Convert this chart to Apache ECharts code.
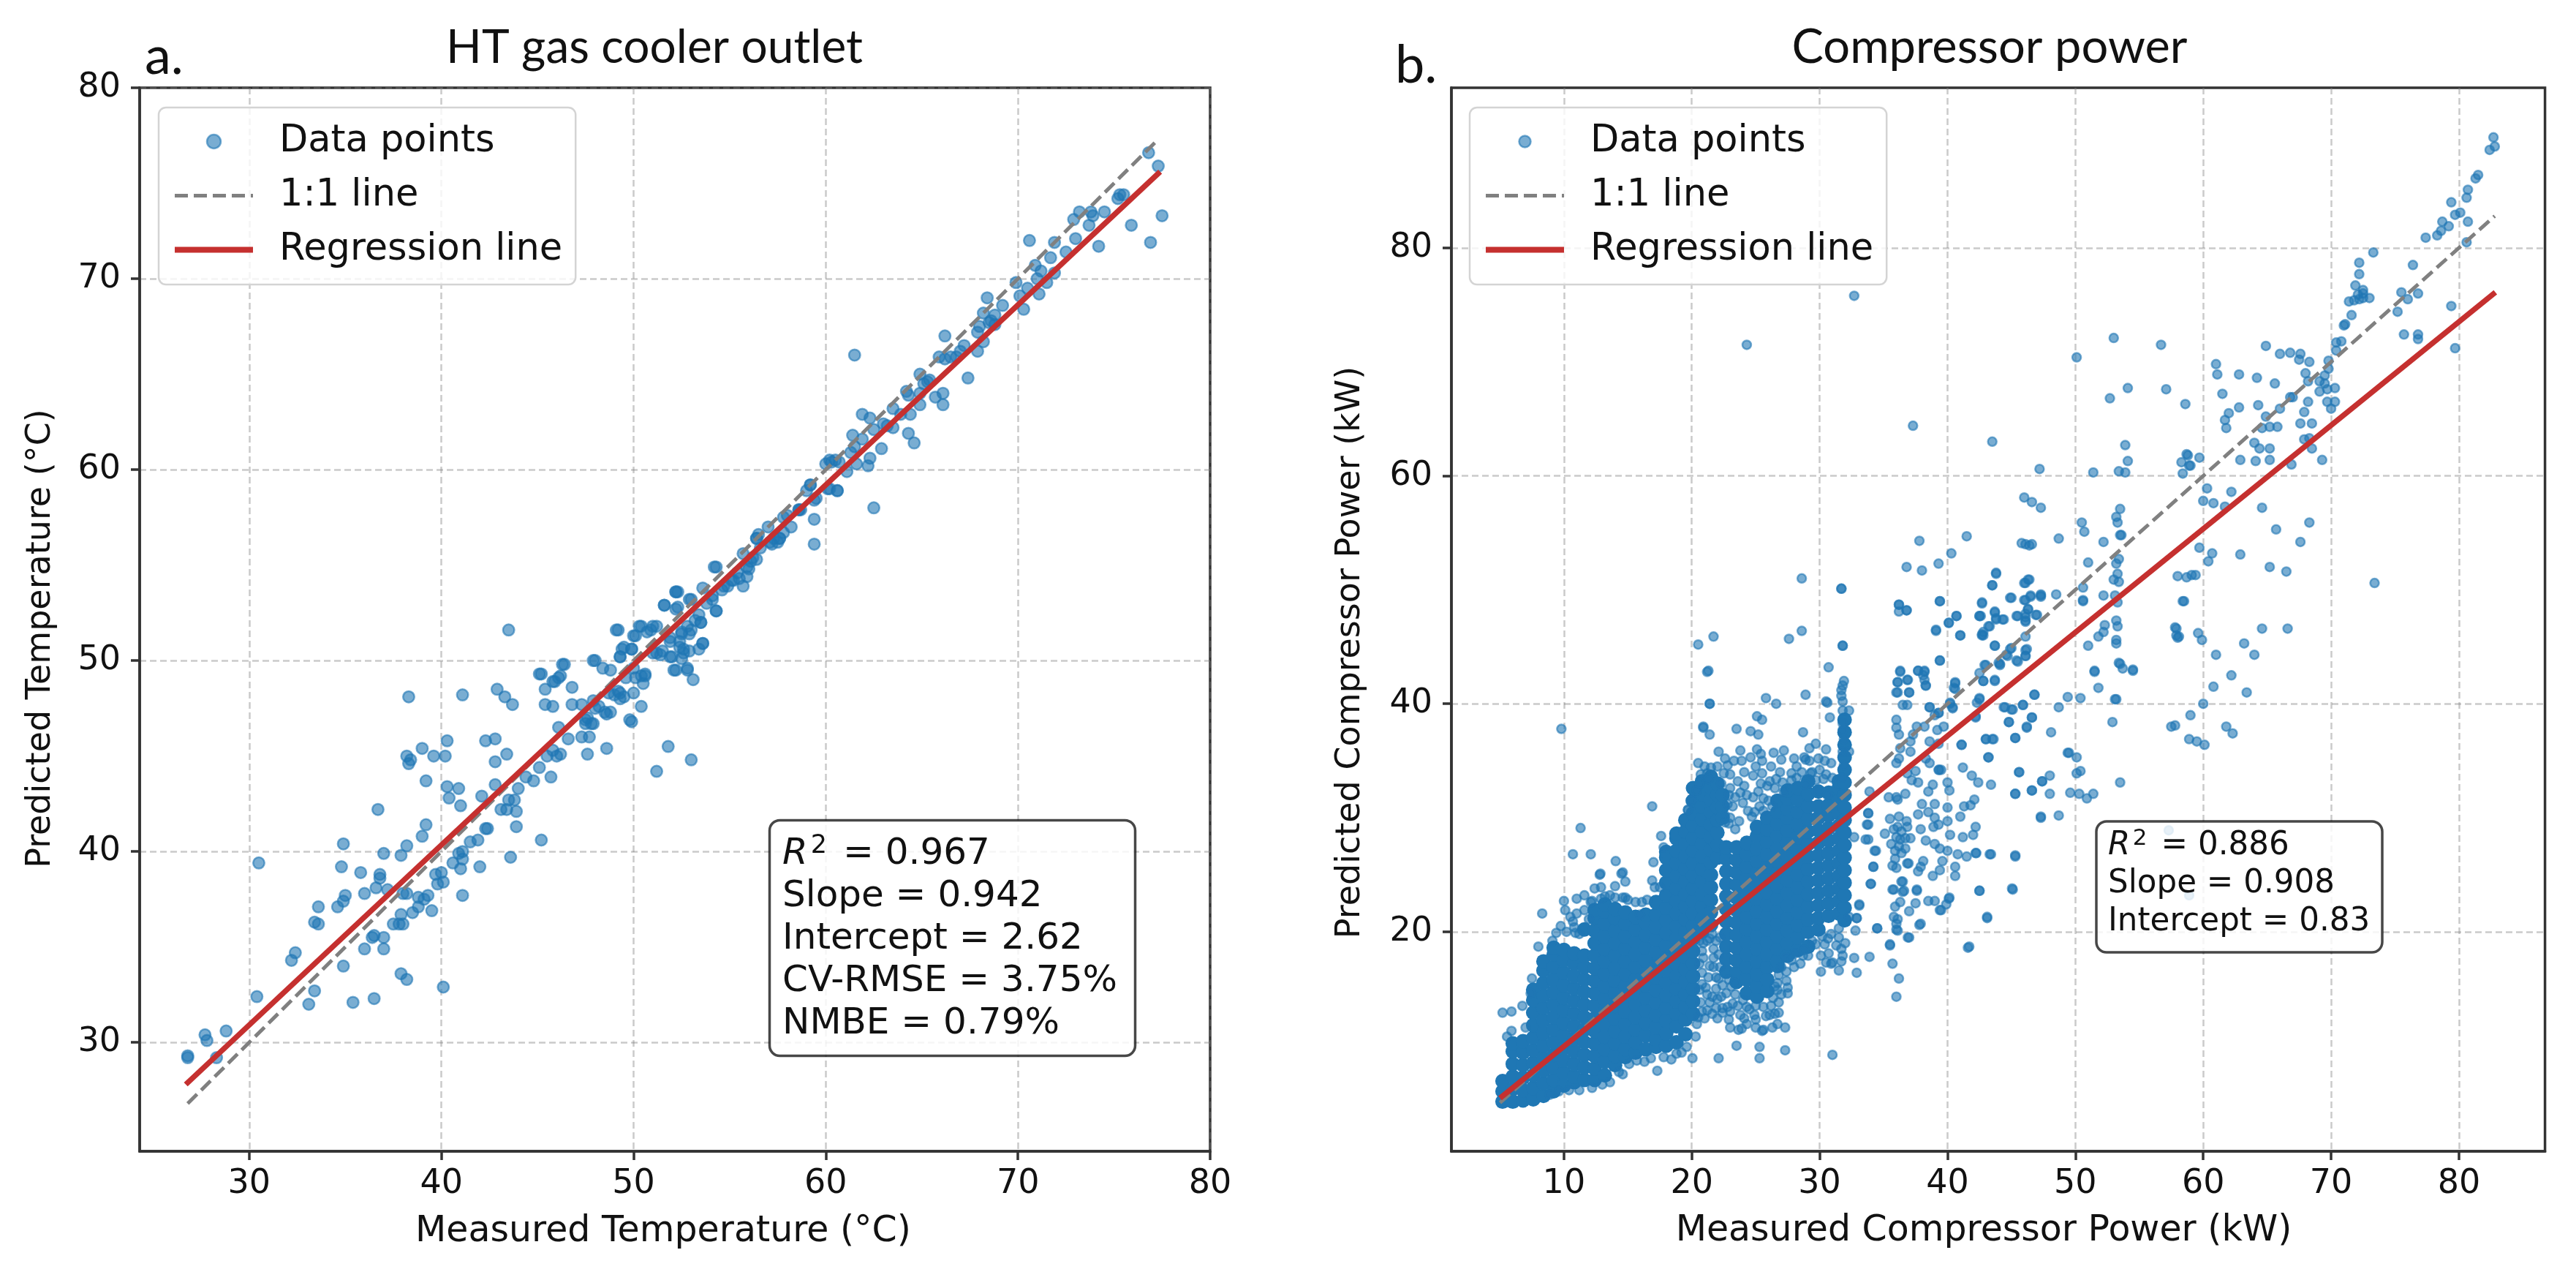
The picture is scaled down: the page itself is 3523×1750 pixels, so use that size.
<!DOCTYPE html>
<html><head><meta charset="utf-8">
<style>html,body{margin:0;padding:0;background:#fff}#c{width:3523px;height:1750px}</style>
<script src="https://cdn.jsdelivr.net/npm/echarts@6/dist/echarts.min.js"></script>
</head><body><div id="c"></div>
<script>
const ticksAX=[30,40,50,60,70,80], ticksAY=[30,40,50,60,70,80];
const ticksBX=[10,20,30,40,50,60,70,80], ticksBY=[20,40,60,80];
const oneToOneA=[[26.8,26.8],[77.2,77.2]], regressionA=[[26.7,27.8],[77.4,75.6]];
const oneToOneB=[[5,5],[82.8,82.8]], regressionB=[[5,5.4],[82.85,76.1]];
const statsA=['{i|R}{s|2} = 0.967','Slope = 0.942','Intercept = 2.62','CV-RMSE = 3.75%','NMBE = 0.79%'];
const statsB=['{i|R}{s|2} = 0.886','Slope = 0.908','Intercept = 0.83'];
// measured,predicted pairs
const pointsA=[26.8,29.3,26.8,29.2,27.7,30.4,27.8,30.1,28.8,30.6,28.3,29.2,30.4,32.4,30.5,39.4,32.2,34.3,32.4,34.7,33.4,32.7,33.1,32,33.4,36.3,33.6,36.2,33.6,37.1,34.6,37.1,35,37.7,34.9,37.4,34.8,39.2,34.9,40.4,34.9,34,35.4,32.1,36.5,32.3,35.8,38.9,36,37.8,36.6,38.1,36.8,38.8,36.8,38.6,37,39.9,36.7,42.2,37.2,38,36,34.9,36.5,35.6,36.4,35.5,37,35.5,37,34.9,37.9,39.8,38.2,40.3,39,40.8,39.2,41.4,38,37.8,38.2,37.8,37.5,36.2,37.8,36.2,37.9,36.7,38,36.2,38.5,36.8,38.8,37.1,39.1,37.5,38.8,37.6,39.3,37.7,39.5,36.9,39.7,38.8,40,38.9,39.8,38.3,40.1,38.4,37.9,33.6,38.2,33.3,40.1,32.9,38.3,48.1,38.2,45,38.4,44.8,38.3,44.6,39,45.4,39.6,45,40.2,45,40.3,45.8,39.2,43.7,40.3,43.4,40.9,43.3,40.4,42.8,41,42.4,41.1,48.2,42.1,42.9,42.3,45.8,42.8,45.9,42.8,44.7,43.4,45.1,42.8,43.5,43.5,51.6,42.9,48.5,43.3,48.1,43.7,47.7,40.6,39.4,41,39.1,41.1,39.6,40.9,39.9,41.1,40,41.5,40.5,41.1,37.7,42,39.2,41.9,40.6,42.3,41.2,42.4,41.2,43.1,42.2,43.4,42.2,43.5,42.7,43.8,42.7,43.9,42.1,44,43.3,43.9,41.3,43.6,39.7,45.2,40.6,44.4,43.9,44.8,43.7,45.1,44.4,45.7,43.9,45.5,45,45.8,45.3,46,45,46.2,45.1,46.6,45.9,46.1,46.5,45.2,49.3,45.4,48.5,45.4,47.7,45.8,47.6,45.9,48.9,46.2,49.2,46.4,49.8,46.8,48.6,46.8,47.7,47.3,46,47.6,45.1,48.6,45.4,47.7,46,47.3,47.7,47.9,47.9,47.6,47,47.5,46.7,47.9,46.7,48.2,47.6,48.5,47.3,48.8,47.3,48,50,48.4,49.6,48.7,48.3,49.2,48.4,49.5,48.1,49.3,48,49.2,51.6,49.3,50.2,49.5,50.7,49.9,50.6,50,49.6,50.4,49.2,50.6,49.3,50.5,48.8,50.4,47.6,49.8,46.9,49.9,46.8,50,48.3,51.8,45.5,51.2,44.2,53,44.8,50.4,51.8,50.1,51.3,50.9,51.6,51,50.4,51.2,51.8,51.6,52.9,52.2,53.6,52.2,52.7,51.4,50.3,51.9,50.2,52.2,49.5,52.6,50.4,52.8,49.5,53.1,49,53.6,50.9,54.3,52.6,53.5,52,52.9,53.2,52.5,51.4,53,51.6,51.9,51.2,52.4,51,53.4,50.6,49.1,51.6,50,51.3,50.3,51.8,51,51.8,50.7,51.5,49.4,50.6,49.9,50.6,49.3,50.2,47.9,50,46.3,49.8,46.1,49.1,45.8,48.9,45.1,49.3,49.3,48.3,49,48.2,50.6,49.2,50.1,49.1,49.6,49.1,48.8,49.5,47.5,46.9,47.8,46.7,48.6,47.2,48,47.5,52.3,53.6,52.3,52.8,53,53.2,53.6,53.8,54.2,54.9,52.2,53.6,51.6,52.9,52.9,51.4,54.3,52.6,53.6,50.9,52.8,49.6,52.1,49.5,59.4,57.4,59.4,56.1,58.2,57,55.7,53.9,55.9,54.4,60.6,58.9,60.1,59,56.5,56.6,56.4,56.4,57.6,56.4,57.5,56.2,57.2,56.1,57,57,57.8,57.5,58.7,57.9,59,58.9,59.2,59.2,59.4,58.4,60,60.3,60.3,60.4,60.7,60.4,56.1,55.2,56.4,55.3,55.7,55.6,56,54.8,55.5,54.3,55.2,54.2,54.9,53.9,54.6,53.7,54.1,53.2,53.8,53,53.4,52.4,53.2,52.1,52.8,51.8,52.5,51.5,53.5,52,51.9,51,52.6,50.6,52.9,50.5,52.4,50.7,51.2,50.4,51.5,50.5,52,50.2,52.5,50.1,55.4,54.6,55.1,54.2,54.7,53.9,54.1,53.4,56.2,55.4,56.6,55.9,57.3,56.4,57.8,56.7,58.6,57.9,58,57.6,57.1,56.2,56.4,56.4,55.9,54.9,54.3,54.9,76.8,76.6,77.3,75.9,77.5,73.3,75.9,72.8,76.9,71.9,75.3,74.4,75.2,74.2,75.5,74.4,74.5,73.5,73.8,73.5,73.9,73.3,73.7,72.8,73.2,73.5,72.9,73.1,73,72.1,74.2,71.7,70.6,72,71.9,71.9,72.5,71.4,71.7,71.1,70.9,70.7,71.2,70.4,71.9,70.3,71,70,71.5,69.8,69.9,69.8,70.5,69.5,71.1,69.2,70.3,68.4,70.1,69.1,68.4,69,69.2,68.6,68.8,68.1,68.2,68.2,68.5,67.7,68,67.5,67.9,67.2,68.2,66.7,67.9,66.2,66.2,67,67.2,66.5,65.9,65.9,66.5,65.9,66.2,65.8,67.4,64.8,61.5,66,64.9,65,65.4,64.7,64.2,64.1,64.3,63.9,64.9,64,65.7,63.8,66.1,64,66.1,63.4,64.9,63.4,64.4,62.9,63.9,62.9,63.5,63.2,61.9,62.9,62.3,62.7,62.5,62.1,61.4,61.8,61.9,61.6,64.3,61.9,64.6,61.4,62.9,61.1,61.5,61.2,60.2,60.5,60.5,60.5,61.3,60.9,62.2,60.2,62.3,60.6,61.1,59.9,61.6,60.3,59.2,59.2,60.2,59,60.6,58.9,59.5,58.5,62.5,58,58.6,57.9,57.6,56.4,65.1,64.5,65.3,64.6,66.8,65.9,67,66.2,68.6,67.8,68.8,67.6,63.2,62.3,63.5,62.2,63,62.4];
// outlying and sparse points
const pointsB=[24.3,71.5,32.7,75.8,37.3,64.4,43.5,63,50.1,70.4,53,72.1,56.7,71.5,54.1,67.7,52.7,66.8,57.1,67.6,58.6,66.3,53.9,62.7,54.1,61.3,53.4,60.4,53.9,60.3,51.4,60.3,47.2,60.6,58.7,61.9,58.8,61.8,58.3,61.2,58.9,60.9,58.4,60.2,46,58.1,46.6,57.7,47.3,57.2,53.5,57.1,53.2,56.4,53.3,55.9,50.5,55.9,50.7,55.1,53.5,54.8,53.6,54.8,48.7,54.5,52.2,54.2,37.8,54.3,41.5,54.7,40.3,53.2,45.8,54.1,46.1,54,46.4,53.9,46.6,54,36.8,52,38,51.7,39.3,52.3,43.8,51.5,43.5,50.4,31.7,50.1,51,52.4,53.4,52.7,53.2,52.3,53.3,51.4,53,50.9,53.4,50.7,46.4,50.9,46,50.6,50.6,50.2,58,51.2,58.7,51.1,59.1,51.3,48.5,49.6,47.3,49.6,47.3,49.4,46.5,49.4,46,49.1,44.9,49.3,42.7,48.9,39.4,49,50.6,49.1,50.6,49,52.2,49.5,53.1,49.5,53.3,48.9,58.4,49,36.2,48.7,36.2,48.1,36.8,48.2,42.5,47.7,42.6,47.7,43.7,48,43.8,47.4,44.3,47.4,45.4,47.7,46.3,48.3,46.1,47.6,46.9,47.8,46.1,47.3,40.7,47.7,40.1,47.1,39.1,46.5,43.2,46.8,42.7,46.1,42.8,46,41,46,53.2,47.3,53.3,46.8,52.3,46.9,52.2,46.3,51.8,45.9,57.8,46.7,57.9,46,58.1,45.9,53.2,45.6,53.2,45.3,31.8,45.1,43.7,45.1,51,45.1,46.2,44.8,45,44.9,44.7,44.2,46.1,44.2,45.4,43.8,44,43.6,44.1,43.4,42.9,43.4,39.4,43.8,53.5,43.5,53.4,43.6,53.7,43.1,54.5,43,51.5,42.9,51.8,41.4,36.3,42.8,37.7,42.9,38.2,42.8,36.1,41.9,36.9,42.1,38.2,42.1,38.3,41.6,36.1,41,37,41,42.5,42.7,42.8,42,43.7,42.1,40.6,41.9,40.5,41.4,42.5,40.5,42.3,40.1,46.8,40.8,49.4,40.6,50.4,40.5,53.1,40.4,53.2,40.4,52.9,38.4,57.8,38.1,48.7,39.7,45.9,39.9,45.1,39.5,44.4,39.7,46.6,38.8,46.2,37.9,44.8,38.4,45.3,37,48.1,37.5,43,36.9,43.5,36.9,41.1,36.4,43.2,35.3,49.4,35.7,50.1,35.3,58.9,36.9,42.2,38.9,40.2,40,40.4,39.7,38.6,39.7,39.3,39.2,82.7,89.7,82.8,88.9,82.4,88.6,81.5,86.4,81.3,86.1,80.7,85.1,80.6,84.4,79.4,84,80.7,82.3,80.1,83.1,79.7,82.9,78.7,82.3,79.2,81.9,78.6,81.5,78.3,81.1,77.4,80.9,80.6,80.5,76.4,78.5,75.5,76.1,76.8,76,76,75.5,75.2,74.4,79.4,74.9,75.7,72.4,76.8,72.4,76.8,72,79.7,71.2,73.3,79.6,72.2,78.7,72.2,77.7,71.9,76.7,72.5,76.3,73,75.6,72.5,75.6,72.2,75.5,71.8,75.4,71.4,75.3,72.5,76,72.1,75.9,71.6,74.1,71.1,73.3,71,73.2,70.8,71.8,70.4,71.7,70.4,71,64.9,71.4,66,70.7,66.8,70.8,67.6,70.7,67.5,70.2,68.3,70,69.8,70.1,69.8,69.4,69.5,68.8,68,69,68.2,68.3,69.1,68.3,69.5,68.1,69.7,67.6,69.1,67.4,70.3,67.7,68.2,66.5,67.9,65.6,67.6,64.6,68.5,64.6,67,66.9,66.8,66.9,69.7,66.5,70.3,66.5,70,65.9,61,69.8,61.1,68.9,62.8,68.9,64.2,68.6,65.6,68.1,61.5,67.2,62.8,66,64.3,66.2,66,65.9,62,65.5,61.7,64.9,61.8,64.2,64.9,65.2,64.6,64.2,65.2,64.3,65.8,64.3,64,62.9,64.4,62.4,65.2,62.4,62.9,61.4,64.1,61.3,65.2,61.4,66.9,61,67.9,63.2,68.5,62.4,69.3,61.4,68.3,63.3,59.7,61.6,59,60.9,60.3,58.9,62.2,58.6,60,57.8,60.8,57.6,61.7,57.3,64.6,57.2,65.7,55.3,68.3,55.9,67.6,54.2,59.7,53.7,60.7,53.2,60.4,52.5,62.9,53.1,65.2,52,66.5,51.6,73.4,50.6,59.4,51.3,58.5,49,57.9,46.6,58,45.8,59.6,46.2,59.9,45.6,63.2,45.3,64.6,46.6,66.6,46.6,57.5,38,59,39,59.5,36.7,60.1,36.4,61.8,38,62.3,37.4,63.4,41,62.2,42.5,60.8,41.5,64,44.3,61,44.3,60,40,51.5,42.8,54.5,42.9,49.5,35.7,45.6,34,50.4,34.1,50.1,33.9,53.5,33.1,48,33.7,47.4,33.2,46.6,32.4,45.3,32.1,48,32.1,49.6,32.2,50.3,32.1,50.9,31.7,51.4,32.1,47.3,30,48.7,30.2,45.3,26.7,43.3,26.8,42.2,26.9,45.1,23.7,42.5,23.6,43.1,21.2,41.6,18.6,40.1,22.9,39.5,21.9,36,14.3,36.2,15.9,35.7,17.2,35.5,18.8,36.9,19.5,37.8,20.6,33.9,17.8,32.7,17.7,32.9,16.4,34.5,20.3,32.9,21.2,33.1,22.3,36,20.2,36.1,21.1,35.7,23.7,36.6,23.6,37.6,23.6,36.4,24.4,34,24.2,34.2,25.7,34.4,27.1,33.6,28.1,33.8,29.4,33.8,30.4,9.8,37.8,21.2,42.8,21.4,40,30.7,43.2,30.5,40.2,20.9,37.9,21.4,37.3,16.9,31,11.3,29.1,10.7,26.8,12.1,26.8,14.05,26.2,12.8,25,12.85,25.1,14.5,25.1,14.6,25.2,14.8,24.4,14,24,12.4,23.8,12.9,23.9,10,22.7,11,22.9,11.6,23.2,12.1,22.6,10.1,21.9,8.3,21.6,9.75,20.5,10.7,20.9,10.8,20.4,11.95,21.1,5.2,12.9,5.9,13,6.75,13.5,5.9,11.3,5.55,10.8,7,11.6,7.5,15.9,7.4,14.6,8,18.7,9.1,19.2,17.6,28.4,17.8,27.4,17,26.1,16.9,24.5,17.1,23.9,17.5,23.9,14.8,23,15.6,22.6,16.1,22.6,15.95,21.5,19.7,30.7,20.4,32.5,20,31.6,14.6,7.5,15.1,8.4,16.3,8.6,17.3,7.8,18.4,8.8,19.2,9.4,20.05,8.9,22.1,8.9,23.5,10,25.3,8.9,25.3,9.9,27.3,9.6,31,9.2,23.65,11.4,23.9,11.5,25,11.6,25.5,11.3,25.6,11.4,26.3,11.6,26.7,11.9,27.3,11.6,22.9,12.3,23.8,12.7,24.9,12.7,25.8,12.6,21.9,13.3,21.4,13.8,21.1,15.1,21.9,15,20.8,16.4,21.7,16.9,21.9,16,20.6,19.2,20.6,14.9,23,13,24,14,22.8,13.4,23.4,14.5,26.8,16.2,27.5,15.1,27.5,14.6,26.8,13.8,26.35,14.2,27.4,17.7,28,16.9,29.1,17.9,30.1,16.5,30.5,17.3,31,17.3,31.5,16.6,30.1,17.9,30.65,19.4,31.3,18.8,31.7,18.5,31.7,17.4,30.9,17.2,30.7,18.1,31.5,19.5,32,19,31.8,17.9,28.6,51,31.7,50.1,21.7,45.9,20.5,45.2,28.6,46.4,27.6,45.7,31.8,45.1,21.3,42.9,31.7,41.2,31.7,40.7,31.8,40.2,28.9,40.8,25.8,40.5,26.6,40,21.4,40,30.6,40.1,25.1,38.9,25.5,38.6,30.8,38.8,31.8,39.4,32.3,39.4,20.9,38,23.5,37.8,24.6,37.6,25.2,37.3,28.7,37.5,29.7,36.5,22.1,35.8,23.8,35.9,24.6,35.3,25.4,35.6,27.2,35.9,27,35.1,28,35.2,28.8,35.3,28.9,35.1,30.4,35,20.5,34.8,22.6,35.2,26.2,34.5,25.5,33.9,27.8,33.9,29.4,34,31.8,35.8,32.3,35.8,22.8,34.6,23,33.8,21.2,33.9,25.4,33,24.1,32.8,26.5,32.6,27.2,32.3,28.9,32.9,30.3,33.4,20.4,32.4,23.8,32.2,24.8,31.8,25.6,31.7,25.3,31,19.7,30.7,24.4,30.6,24.7,30.1,23.7,29.7,23.4,29,22.6,30.2,22.8,31.2,29.9,32.4,30.6,32,33.9,32.3,33.8,30.4,33.7,29.4,32.7,28.3,33.8,28.1,34.3,27.1,34.2,25.7,34,24.2,33.1,22.4,32.9,21.2,34.5,20.3,32.8,20.1,32.3,21.3,36.3,42.9,37.7,42.9,38.2,42.9,38.1,42.5,38.3,41.6,36.1,41.9,36.85,42.1,36,41,37,41,36.5,39.9,36.85,39.9,38.6,39.7,39.3,39.2,39,39,40.2,40.1,40.4,39.6,40.6,41.8,40.6,41.3,36,38.6,36,37.9,36.2,37.3,37.6,38,38.2,38,37.3,37.3,39.2,37.7,39.7,38,37.1,36.7,38.6,36.7,39.3,36.5,36.3,36.1,36.2,35.2,36,34.8,37.1,35.8,38.3,35.2,38.6,34.8,39.3,34.2,39.35,34.2,39.5,34.2,37.5,34.1,36.85,33.9,37.2,33.3,37.7,33.1,38.85,32.9,40,33.1,40.15,32.4,38.5,32.3,36,31.8,35.4,31.8,36.7,32.1,36.1,31.6,38,31.2,39,31.2,40,30.9,41.3,31,41.8,31.1,42.1,31.6,37.7,30.3,38.5,30.5,41,30.1,35.5,29.9,36.2,30.1,36.8,29.7,35.1,28.6,35.8,29,36.4,28.8,36.85,29.2,36,28.3,36.7,28.2,37.1,28.2,35.6,27.7,36.2,27.5,36.7,27.3,36.85,26,35.7,25.8,36,25.6,35.9,26.4,36.3,28.1,36.1,29.2,35.9,27.1,36.4,26.9,37.9,29,38.9,29.2,39.3,29.4,40,29.7,39,30,38.3,28,39,27.7,39.4,27.3,40.2,28.5,41.2,28.3,42,28.5,42.2,29.2,40,27.1,40.8,26.8,41.5,26.6,42.25,26.9,43.4,26.8,45.3,26.6,40.6,25.7,40.6,24.9,39.6,26.2,38.1,26.2,37.9,25.7,37.7,25.3,38.85,24.9,39.4,25.4,36.95,26,36.5,24.4,35.8,23.7,36.5,23.5,37.6,23.7,36.3,22.6,35.9,22.2,37,21.8,37.5,22.5,38.5,22.7,39,22.7,39.4,21.9,40.15,23,39.9,22.4,35.8,21.3,36,20.7,36.1,20.1,37.9,20.7,37,19.5,35.5,18.9,41.7,18.7,43.1,21.3,45.05,23.8,42.5,23.6,39.4,49,36.2,48.7,36.8,48.2,39.1,46.4,40.1,47.1,40.7,47.7,41,46,39.4,43.8,42.5,47.7,42.7,48.8,43.5,50.4,43.8,51.4,43.7,48.1,43.8,47.5,44.4,47.4,43.3,46.8,42.8,46.3,42.7,46,43.7,45.1,45,49.3,46.1,50.6,46.3,50.9,46.1,49.1,46.5,49.5,47.3,49.5,45.5,47.7,46.1,47.9,47,47.8,46.3,48.3,46.1,47.2,46.1,45.9,46.1,44.7,46.1,44.2,45.5,43.7,44.9,44.8,44.6,44.3,44.1,43.5,43,43.4,42.8,42,43.7,42,42.5,40.4,46.8,40.8,44.5,39.7,45,39.5,45.9,39.9,42.2,38.8,44.8,38.4,46.6,38.8,46.2,38,45.3,37,43,36.9,43.6,36.9,43.2,35.3,41.1,36.4,41.2,34.4,41.9,33.7,42.4,33.1,43.4,32.9,45.6,34,45.3,32.1,46.6,32.4,47.4,33.2,47.3,30.1,57.3,28.9,58.9,23.2,31.8,37.7,31.9,36.9,31.8,38.3,31.9,34.6,31.7,33.5,31.9,42,31.8,41.6];
// ring of points around the solid mass of panel b
const fringeB=[21,34.5,21.5,34.4,22,34.5,22.5,33.9,20.7,33.8,21.3,33.4,22.3,33,23,32.6,22.9,32,23.2,31,23,30,20.6,33,19.9,31.5,22.6,29.6,22.9,29.5,10.2,20,10.9,19.9,11.2,19.8,9.4,19.9,10.5,21.3,11.6,21.9,12.2,22.7,13.2,23.1,14,23,14.6,23,15,22.8,16.5,22.8,12.9,22.9,13.6,23.2,11,21.6,8.9,5.7,9.6,6,10.4,6.1,11.2,6.1,12.2,6.3,13,6.6,13.6,6.8,14.3,7.7,15.7,8.7,16.8,8.9,17.8,9,18.8,9.3,19.6,9.9,20.3,10.8,20.4,11.9,20.5,12.5,22.7,14.6,23.1,15.2,22.9,15.8,23.6,13.5,24.3,13.4,23.2,13.7,24.5,13.2,25,13.5,25.6,13.4,26.2,13.5,24.1,12.4,26.1,12.7,26.5,15.2,26.7,15.5,27,16.9,27.8,17.5,28.7,17.9,28.1,18.1,27.4,15.7,26.5,12.8,20.9,19,21.4,19.4,20.8,18.3,21.7,18.5,22.1,18,21.9,19.2,22.2,19.5,21.7,17.7,22.2,16.9,22.1,15.9,22.4,15.3,22.3,14.3,21.6,14.3,22,14.1,20.8,15.4,21.2,14.5,20.7,13.8,21.2,13.1,22.4,13.3,20.8,13,20.6,17.2,21.3,16,21.4,17,20.9,17.7,22.4,12.9,23.4,31.8,24,31.3,24.3,32,24.9,30.5,25.6,30.6,25.2,32.3,26,31.5,26.3,31,25.9,32.8,26.6,33.4,27.1,33.1,27.8,33.3,28.2,33.5,28.6,34,29.3,33.9,29.7,33.3,30,34.2,30.5,33.8,31,33.5,30.9,34.8,29.2,35,28.2,34.5,26.9,34,26.1,33.2,24.8,33.7,25,34.5,23.6,33.2,24.1,34,23.3,35,23.9,35,25.1,36,25.5,35,26.4,35.7,29.9,35.2,30.5,36,29.2,36.1,21.2,19.2,21.6,19.8,21,12.4,21.6,12.8,22,12.4,23,11.6,24.3,11.9,25,12.3,26.8,12.9,23.4,15.5,26.7,14.9,27.4,16.5,27,14.5,28.5,17.2,29.7,18.9,30.4,18.9,29.4,19.2,28.8,18.4,30.9,19.8,31.5,20.3,30.2,19.6];
// the solid mass of panel b, one row per measured value: x, then the predicted values at that x
const denseB=[
[5.2,5.1,6,6.9],
[6,5.1,6.2,7.3,8.4,9.5,10.2],
[6.8,5.2,6.1,7.2,8.3,9.4,10.4],
[7.6,5.3,6.3,7.4,8.5,9.6,10.7,11.8,12.9,14,14.9],
[8.4,5.6,6.7,7.8,8.9,10,11.1,12.2,13.3,14.4,15.5,16.6,17.4],
[9.2,6,7,8.1,9.2,10.3,11.4,12.5,13.6,14.7,15.8,16.9,18,18.6],
[10,6.5,7.6,8.7,9.8,10.9,12,13.1,14.2,15.3,16.4,17.5,18.4],
[10.8,6.8,7.3,8.4,9.5,10.6,11.7,12.8,13.9,15,16.1,17.2,18.1],
[11.6,7,8.1,9.2,10.3,11.4,12.5,13.6,14.7,15.8,16.9,17.9,20.2],
[12.4,7,8,9.1,10.2,11.3,12.4,13.5,14.6,15.7,16.8,17.9,19,20.1,21.2,21.9],
[13.2,7.4,8.6,9.7,10.8,11.9,13,14.1,15.2,16.3,17.4,18.5,19.6,20.7,21.8,22.4],
[14,8.3,9.1,10.2,11.3,12.4,13.5,14.6,15.7,16.8,17.9,19,20.1,21.2,22],
[14.8,9,9.7,10.8,11.9,13,14.1,15.2,16.3,17.4,18.5,19.6,20.7,21.7],
[15.6,9.4,10.3,11.4,12.5,13.6,14.7,15.8,16.9,18,19.1,20.2,21.3],
[16.4,9.7,10.9,12,13.1,14.2,15.3,16.4,17.5,18.6,19.7,20.8,21.5],
[17.2,9.9,10.5,11.6,12.7,13.8,14.9,16,17.1,18.2,19.3,20.4,21.5,22.6],
[18,10,11.1,12.2,13.3,14.4,15.5,16.6,17.7,18.8,19.9,21,22.1,23.2,24.3,25.4,26.5,27],
[18.8,10.3,11.7,12.8,13.9,15,16.1,17.2,18.3,19.4,20.5,21.6,22.7,23.8,24.9,26,27.1,28.2,28.6],
[19.5,11,12.3,13.4,14.5,15.6,16.7,17.8,18.9,20,21.1,22.2,23.3,24.4,25.5,26.6,27.7,28.8,29.8],
[20.1,12.8,13.9,15,16.1,17.2,18.3,19.4,20.5,21.6,22.7,23.8,24.9,26,27.1,28.2,29.3,30.4,31.5,32.6],
[20.8,20,21.1,22.2,23.3,24.4,25.5,26.6,27.7,28.8,29.9,31,32.1,33.2],
[21.5,20.6,21.7,22.8,23.9,25,26.1,27.2,28.3,29.4,30.5,31.6,32.7,33.6],
[22,26.5,27.6,28.7,29.8,30.9,32,33],
[22.4,30,31,32],
[22.7,16.5,17.6,18.7,19.8,20.9,22,23.1,24.2,25.3,26.4,27.4],
[23.5,15.6,16.4,17.5,18.6,19.7,20.8,21.9,23,24.1,25.2,26.3,27.4],
[24.3,14.6,15.8,16.9,18,19.1,20.2,21.3,22.4,23.5,24.6,25.7,26.8,27.8],
[25.1,14.3,15.2,16.3,17.4,18.5,19.6,20.7,21.8,22.9,24,25.1,26.2,27.3,28.4,29.2],
[25.9,14.8,15.8,16.9,18,19.1,20.2,21.3,22.4,23.5,24.6,25.7,26.8,27.9,29,30],
[26.7,17,17.4,18.5,19.6,20.7,21.8,22.9,24,25.1,26.2,27.3,28.4,29.5,30.5,31.5],
[27.5,17.9,19,20.1,21.2,22.3,23.4,24.5,25.6,26.7,27.8,28.9,30,30.8,31.7,32.4],
[28.3,18.4,19.5,20.6,21.7,22.8,23.9,25,26.1,27.2,28.3,29.4,30.5,31.6,32.6],
[29.1,18.7,20,21.1,22.2,23.3,24.4,25.5,26.6,27.7,28.8,29.9,31,32.1,33.2],
[29.9,20.2,21.2,22.3,23.4,24.5,25.6,26.7,27.8,28.9,30,31,32.3],
[30.7,21.4,22.5,23.6,24.7,25.8,26.9,28,29.1,30.2,31.1,32.2],
[31.5,21.6,22.7,23.8,24.9,26,27.1,28.2,29.3,30.4,31.5,32.6,33.2],
[31.95,21,22.1,23.2,24.3,25.4,26.5,27.6,28.7,29.8,30.9,32,33.1,34.2,35.3,36.4,37.5,38.6]
];
function pairs(flat){const out=[];for(let i=0;i<flat.length;i+=2)out.push([flat[i],flat[i+1]]);return out;}
function expandColumns(rows){const out=[];rows.forEach(r=>{for(let i=1;i<r.length;i++)out.push([r[0],r[i]]);});return out;}

const FONT='"DejaVu Sans"', BLUE='rgba(31,119,180,0.6)', LABEL=46, GREY='#808080', RED='#c5302f';
const fig=[
 {left:191,top:120,width:1464,height:1454,xMin:24.3,xMax:80,yMin:24.3,yMax:80},
 {left:1985,top:120,width:1495.6,height:1454,xMin:1.2,xMax:86.73,yMin:0.74,yMax:94.05}
];
function xAxis(i,ticks,f){return {type:'value',gridIndex:i,min:f.xMin,max:f.xMax,
  axisLine:{onZero:false,lineStyle:{color:'#333',width:3.5}},
  axisTick:{show:true,length:12,customValues:ticks,lineStyle:{color:'#333',width:3.5}},
  axisLabel:{customValues:ticks,fontFamily:FONT,fontSize:LABEL,color:'#111',margin:22},
  splitLine:{show:true,lineStyle:{color:'rgba(128,128,128,0.42)',width:2.5,type:[9,5]}}};}
function yAxis(i,ticks,f){return {type:'value',gridIndex:i,min:f.yMin,max:f.yMax,
  axisLine:{onZero:false,lineStyle:{color:'#333',width:3.5}},
  axisTick:{show:true,length:12,customValues:ticks,lineStyle:{color:'#333',width:3.5}},
  axisLabel:{customValues:ticks,fontFamily:FONT,fontSize:LABEL,color:'#111',margin:26},
  splitLine:{show:true,lineStyle:{color:'rgba(128,128,128,0.42)',width:2.5,type:[9,5]}}};}
function legend(i,left,dot){return {left:left,top:147,orient:'vertical',selectedMode:false,width:574,
  padding:[21,18,22,18],itemGap:23,itemWidth:107,itemHeight:dot,backgroundColor:'rgba(255,255,255,0.8)',
  borderColor:'#d4d4d4',borderWidth:2.5,borderRadius:10,z:20,
  textStyle:{fontFamily:FONT,fontSize:51,color:'#111',padding:[0,0,0,31]},
  data:[{name:'Data points',icon:'circle',itemStyle:{color:BLUE,borderColor:BLUE,borderWidth:2.5}},
        {name:'1:1 line',itemStyle:{color:'transparent',borderColor:'transparent',opacity:0},lineStyle:{color:GREY,width:5,type:[18,8],opacity:1}},
        {name:'Regression line',itemStyle:{color:'transparent',borderColor:'transparent',opacity:0},lineStyle:{color:RED,width:8,type:'solid',opacity:1}}]};}
function scatter(i,data,name,size){return {type:'scatter',name:name,xAxisIndex:i,yAxisIndex:i,data:data,symbolSize:size,
  itemStyle:{color:BLUE,borderColor:BLUE,borderWidth:2.5,opacity:1},large:false,progressive:0,animation:false,z:3};}
function line(i,data,name,color,width,type,z){return {type:'line',name:name,xAxisIndex:i,yAxisIndex:i,data:data,symbol:'none',
  lineStyle:{color:color,width:width,type:type},itemStyle:{color:color},animation:false,z:z,silent:true};}
function txt(x,y,s,size,family,rot){return {type:'text',x:x,y:y,rotation:rot||0,z:30,
  style:{text:s,fontFamily:family,fontSize:size,fill:'#111',textAlign:'center',textVerticalAlign:'middle'}};}
function box(x,y,w,h){return {type:'rect',z:25,shape:{x:x,y:y,width:w,height:h,r:14},
  style:{fill:'rgba(255,255,255,0.82)',stroke:'rgba(0,0,0,0.72)',lineWidth:3.5}};}
function stats(x,y,lines,size,lh){return {type:'text',x:x,y:y,z:30,style:{text:lines.join('\n'),fontFamily:FONT,fontSize:size,lineHeight:lh,fill:'#111',
  rich:{i:{fontFamily:FONT,fontStyle:'italic',fontSize:size,lineHeight:lh,fill:'#111'},
        s:{fontFamily:FONT,fontSize:Math.round(size*0.7),lineHeight:lh,verticalAlign:'top',fill:'#111',padding:[0,size*0.12,0,size*0.08]}}}};}

const coreStyle={color:'#1f77b4',borderWidth:0,opacity:1};
const chart=echarts.init(document.getElementById('c'),null,{renderer:'canvas',width:3523,height:1750});
chart.setOption({
 animation:false,backgroundColor:'#fff',
 grid:fig.map(f=>({left:f.left,top:f.top,width:f.width,height:f.height,show:true,borderColor:'#333',borderWidth:3.5,backgroundColor:'transparent'})),
 xAxis:[xAxis(0,ticksAX,fig[0]),xAxis(1,ticksBX,fig[1])],
 yAxis:[yAxis(0,ticksAY,fig[0]),yAxis(1,ticksBY,fig[1])],
 legend:[legend(0,217,19),legend(1,2010,16)],
 series:[
  scatter(0,pairs(pointsA),'Data points',15.5),
  line(0,oneToOneA,'1:1 line',GREY,5,[18,8],4),
  line(0,regressionA,'Regression line',RED,7.5,'solid',5),
  {type:'scatter',name:'Data points',xAxisIndex:1,yAxisIndex:1,data:expandColumns(denseB),symbolSize:20,itemStyle:coreStyle,animation:false,z:2,progressive:0},
  scatter(1,pairs(pointsB).concat(pairs(fringeB)),'Data points',12),
  line(1,oneToOneB,'1:1 line',GREY,5,[18,8],4),
  line(1,regressionB,'Regression line',RED,7.5,'solid',5)
 ],
 graphic:{elements:[
  txt(895,65,'HT gas cooler outlet',64,'Lato'),
  txt(2721,65,'Compressor power',65,'Lato'),
  {type:'text',x:198,y:42,z:30,style:{text:'a.',fontFamily:'Lato',fontSize:72,fill:'#111'}},
  {type:'text',x:1908,y:54,z:30,style:{text:'b.',fontFamily:'Lato',fontSize:72,fill:'#111'}},
  txt(907,1684,'Measured Temperature (°C)',49,FONT),
  txt(2713,1683,'Measured Compressor Power (kW)',49,FONT),
  txt(56,873,'Predicted Temperature (°C)',LABEL,FONT,Math.PI/2),
  txt(1847,892,'Predicted Compressor Power (kW)',LABEL,FONT,Math.PI/2),
  box(1052.5,1121.5,500,322),
  stats(1070,1139,statsA,50,58),
  box(2867,1123,391,179),
  stats(2883,1131,statsB,43.6,52)
 ]}
});
</script></body></html>
